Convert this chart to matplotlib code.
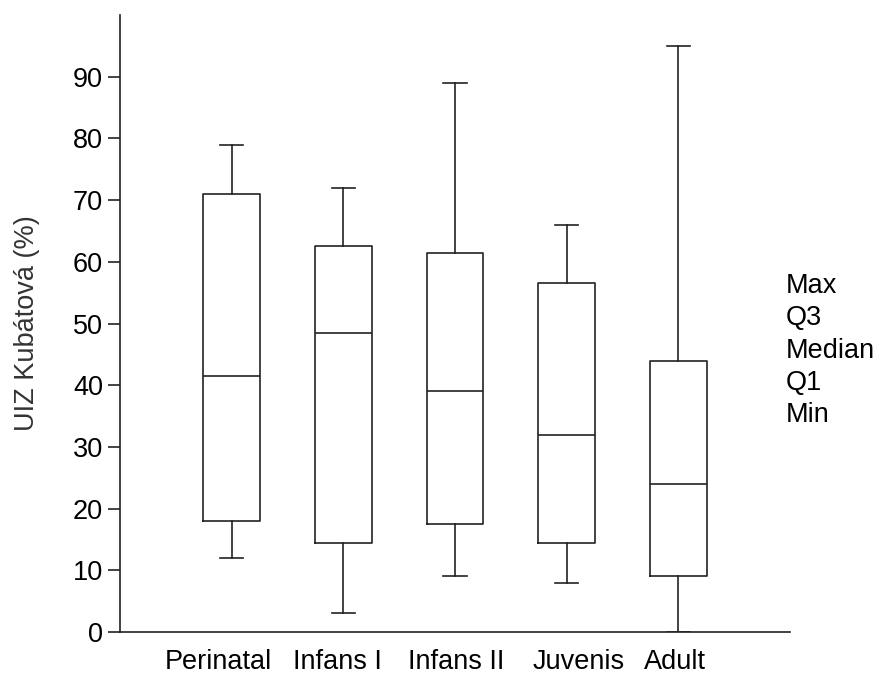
import matplotlib
matplotlib.use("Agg")
import matplotlib.pyplot as plt
from matplotlib.transforms import ScaledTranslation

plt.rcParams['font.family'] = ['Liberation Sans', 'DejaVu Sans']

groups = ["Perinatal", "Infans I", "Infans II", "Juvenis", "Adult"]
mins = [12, 3, 9, 8, 0]
q1s = [18, 14.5, 17.5, 14.5, 9]
medians = [41.5, 48.5, 39, 32, 24]
q3s = [71, 62.5, 61.5, 56.5, 44]
maxs = [79, 72, 89, 66, 95]

legend_lines = ["Max", "Q3", "Median", "Q1", "Min"]

stats = []
for i in range(len(groups)):
    stats.append({"whislo": mins[i], "q1": q1s[i], "med": medians[i],
                  "q3": q3s[i], "whishi": maxs[i], "label": groups[i]})

fig = plt.figure(figsize=(8.92, 6.75), dpi=100)
ax = fig.add_axes([120/892, 43/675, 670/892, 617/675])

lw = 1.2
col = "#222222"
ax.bxp(stats, positions=range(1, len(groups) + 1), widths=0.51, capwidths=0.21,
       showfliers=False,
       boxprops=dict(color=col, linewidth=lw),
       medianprops=dict(color=col, linewidth=lw),
       whiskerprops=dict(color=col, linewidth=lw),
       capprops=dict(color=col, linewidth=lw))

fs = 19.5
ax.set_xlim(0, 6)
ax.set_ylim(0, 100)
ax.set_yticks(range(0, 100, 10))
ax.spines["top"].set_visible(False)
ax.spines["right"].set_visible(False)
for s in ("left", "bottom"):
    ax.spines[s].set_linewidth(1.2)
    ax.spines[s].set_color(col)
ax.tick_params(axis="y", length=8.6, width=1.2, color=col, labelsize=fs, pad=3.5)
ax.tick_params(axis="x", length=0, labelsize=fs, pad=12)
ax.set_ylabel("UIZ Kubátová (%)", fontsize=fs, labelpad=24, color="#333333")

# the category labels are not quite centred under the boxes in the original
nudge_px = [-13, -6, 1, 12, -3]
for tick, dx in zip(ax.xaxis.get_major_ticks(), nudge_px):
    lab = tick.label1
    lab.set_transform(lab.get_transform() + ScaledTranslation(dx / 100, 0, fig.dpi_scale_trans))

for k, t in enumerate(legend_lines):
    fig.text(786/892, 1 - (293 + 32.3 * k)/675, t, fontsize=fs, va="baseline", ha="left")

fig.savefig("out.png", dpi=100)
